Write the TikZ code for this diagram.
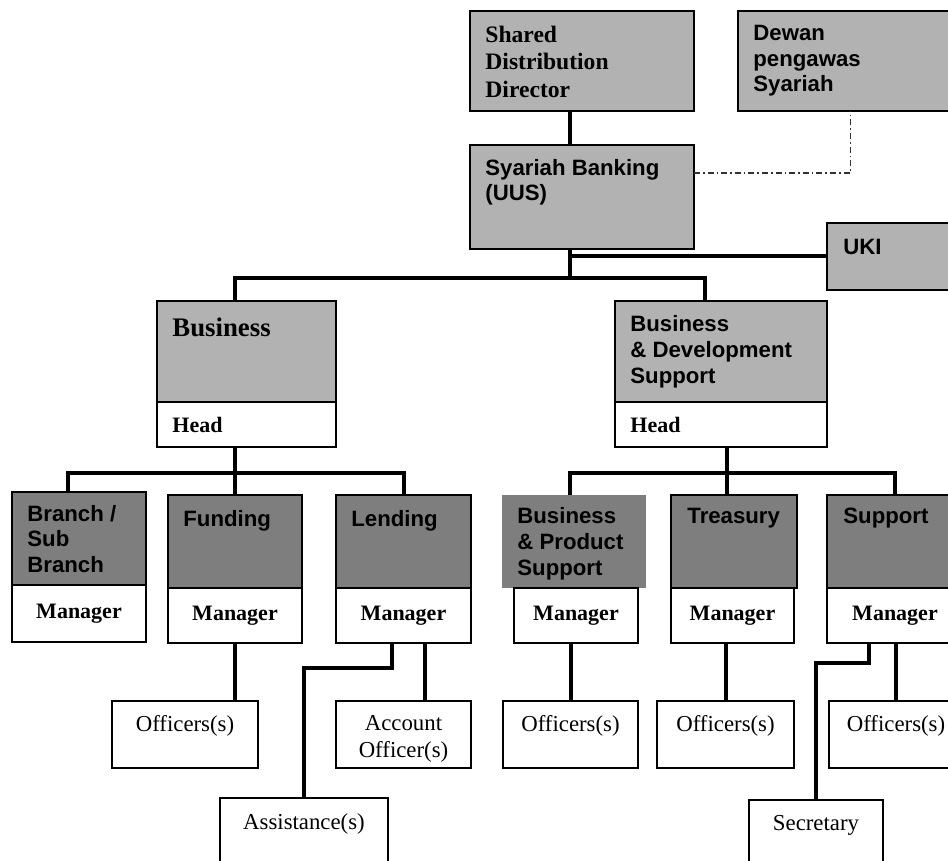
\documentclass[tikz,border=0pt]{standalone}
\usepackage{fontspec}
\setmainfont{Liberation Serif}
\setsansfont{Liberation Sans}
\definecolor{unitgray}{RGB}{178,178,178}
\definecolor{deptgray}{RGB}{126,126,126}
\newcommand{\orgserif}{\fontsize{11}{13.5}\selectfont\rmfamily}
\newcommand{\orgsans}{\fontsize{11.1}{12.9}\selectfont\sffamily\bfseries}

\tikzset{
  box/.style={draw, line width=0.7pt, inner sep=0pt, outer sep=0pt, anchor=north west},
  unitbox/.style={box, fill=unitgray},
  deptbox/.style={box, fill=deptgray},
  rolebox/.style={box, fill=white, font=\orgserif\bfseries},
  staffbox/.style={box, fill=white},
  conn/.style={line width=2pt},
  advice/.style={line width=0.7pt, black!80, dash pattern=on 3pt off 1.5pt on 0.8pt off 1.5pt},
  sanslbl/.style={font=\orgsans, align=left, inner sep=0pt, anchor=north west},
  seriflbl/.style={font=\orgserif\bfseries, align=left, inner sep=0pt, anchor=north west},
  stafflbl/.style={font=\fontsize{11.4}{13.5}\selectfont, align=center, inner sep=0pt, anchor=north},
}

\begin{document}
\begin{tikzpicture}[x=0.5pt, y=-0.5pt]
\clip (0,0) rectangle (948,861);
% Top units
\node[unitbox, minimum width=112pt, minimum height=50pt] (sdd) at (470,11) {};
\node[seriflbl, font=\fontsize{11.8}{13.6}\selectfont\bfseries] at ([xshift=7.5pt, yshift=-7.5pt]sdd.north west) {Shared\\Distribution\\Director};
\node[unitbox, minimum width=112.5pt, minimum height=50pt] (dewan) at (738,11) {};
\node[sanslbl] at ([xshift=7.5pt, yshift=-6.8pt]dewan.north west) {Dewan\\pengawas\\Syariah};
\node[unitbox, minimum width=112pt, minimum height=52pt] (uus) at (470,145) {};
\node[sanslbl] at ([xshift=7.5pt, yshift=-6.8pt]uus.north west) {Syariah Banking\\(UUS)};
\node[unitbox, minimum width=68pt, minimum height=33.5pt] (uki) at (827,223) {};
\node[sanslbl] at ([xshift=8pt, yshift=-8pt]uki.north west) {UKI};

% Divisions
\node[unitbox, minimum width=89.5pt, minimum height=50.5pt] (biz) at (157,301) {};
\node[seriflbl, font=\fontsize{13.4}{15}\selectfont\bfseries] at ([xshift=7.5pt, yshift=-8.5pt]biz.north west) {Business};
\node[staffbox, minimum width=89.5pt, minimum height=22.5pt] (bizhead) at (157,402) {};
\node[seriflbl, anchor=west] at ([xshift=7.5pt]bizhead.west) {Head};
\node[unitbox, minimum width=106pt, minimum height=50.5pt] (bds) at (615,301) {};
\node[sanslbl] at ([xshift=7.5pt, yshift=-7.2pt]bds.north west) {Business\\\& Development\\Support};
\node[staffbox, minimum width=106pt, minimum height=22.5pt] (bdshead) at (615,402) {};
\node[seriflbl, anchor=west] at ([xshift=7.5pt]bdshead.west) {Head};

% Departments
\node[deptbox, minimum width=67pt, minimum height=46.5pt] (branch) at (12,492) {};
\node[sanslbl] at ([xshift=7.5pt, yshift=-6.3pt]branch.north west) {Branch /\\Sub\\Branch};
\node[rolebox, minimum width=67pt, minimum height=28.5pt] (branchmgr) at (12,585) {Manager};
\node[deptbox, minimum width=67pt, minimum height=46.5pt] (fund) at (168,495) {};
\node[sanslbl] at ([xshift=7.5pt, yshift=-7.3pt]fund.north west) {Funding};
\node[rolebox, minimum width=67pt, minimum height=27.5pt] (fundmgr) at (168,588) {Manager};
\node[deptbox, minimum width=67.5pt, minimum height=46.5pt] (lend) at (336,495) {};
\node[sanslbl] at ([xshift=7.5pt, yshift=-7.3pt]lend.north west) {Lending};
\node[rolebox, minimum width=67.5pt, minimum height=27.5pt] (lendmgr) at (336,588) {Manager};
\node[deptbox, draw=none, minimum width=72pt, minimum height=46.5pt] (bps) at (502,495) {};
\node[sanslbl] at ([xshift=7.5pt, yshift=-6pt]bps.north west) {Business\\\& Product\\Support};
\node[rolebox, minimum width=62pt, minimum height=27.5pt] (bpsmgr) at (514,588) {Manager};
\node[deptbox, minimum width=63pt, minimum height=46.5pt] (treas) at (671,495) {};
\node[sanslbl] at ([xshift=8pt, yshift=-6.5pt]treas.north west) {Treasury};
\node[rolebox, minimum width=61.5pt, minimum height=27.5pt] (treasmgr) at (671,588) {Manager};
\node[deptbox, minimum width=68pt, minimum height=46.5pt] (supp) at (827,495) {};
\node[sanslbl] at ([xshift=8pt, yshift=-6.5pt]supp.north west) {Support};
\node[rolebox, minimum width=68pt, minimum height=27.5pt] (suppmgr) at (827,588) {Manager};

% Staff
\node[staffbox, minimum width=73pt, minimum height=33.5pt] (off1) at (112,701) {};
\node[stafflbl] at ([yshift=-7.2pt]off1.north) {Officers(s)};
\node[staffbox, minimum width=67.5pt, minimum height=33.5pt] (acc) at (336,701) {};
\node[stafflbl] at ([yshift=-7.2pt]acc.north) {Account\\Officer(s)};
\node[staffbox, minimum width=84pt, minimum height=40pt] (asst) at (220,798) {};
\node[stafflbl] at ([yshift=-7.5pt]asst.north) {Assistance(s)};
\node[staffbox, minimum width=67.5pt, minimum height=33.5pt] (off2) at (503,701) {};
\node[stafflbl] at ([yshift=-7.2pt]off2.north) {Officers(s)};
\node[staffbox, minimum width=68.5pt, minimum height=33.5pt] (off3) at (657,701) {};
\node[stafflbl] at ([yshift=-7.2pt]off3.north) {Officers(s)};
\node[staffbox, minimum width=67pt, minimum height=33.5pt] (off4) at (829,701) {};
\node[stafflbl] at ([yshift=-7.2pt]off4.north) {Officers(s)};
\node[staffbox, minimum width=67pt, minimum height=40pt] (secr) at (749,800) {};
\node[stafflbl] at ([yshift=-7.5pt]secr.north) {Secretary};

% Junctions
\coordinate (hub1) at (570,278);
\coordinate (hub2) at (235,473);
\coordinate (hub3) at (727,473);

% Connectors
\draw[conn] ([xshift=-6pt]sdd.south) -- ([xshift=-6pt]uus.north);
\draw[advice] ([yshift=12pt]uus.east) -| (dewan.south);
\draw[conn] ([xshift=-6pt]uus.south) -- (hub1);
\draw[conn] (uki.west) -- (uki.west -| hub1);
\draw[conn] ([xshift=-5.75pt]biz.north) |- (hub1) -| ([xshift=-8pt]bds.north);
\draw[conn] ([xshift=-5.75pt]bizhead.south) -- (hub2);
\draw[conn] ([xshift=-5.5pt]branch.north) |- (hub2) -| (lend.north);
\draw[conn] (fund.north) -- (hub2);
\draw[conn] ([xshift=3pt]bdshead.south) -- (hub3);
\draw[conn] ([xshift=-2pt]bps.north) |- (hub3) -| (supp.north);
\draw[conn] ([xshift=-3.5pt]treas.north) -- (hub3);
\draw[conn] (fundmgr.south) -- (fundmgr.south |- off1.north);
\draw[conn] ([xshift=-5.75pt]lendmgr.south) -- ++(0,25) -| (asst.north);
\draw[conn] ([xshift=10.75pt]lendmgr.south) -- ([xshift=10.75pt]acc.north);
\draw[conn] (off2.north) -- (off2.north |- bpsmgr.south);
\draw[conn] (off3.north) -- (off3.north |- treasmgr.south);
\draw[conn] ([xshift=-13pt]suppmgr.south) -- ++(0,20) -| (secr.north);
\draw[conn] (off4.north) -- (off4.north |- suppmgr.south);
\end{tikzpicture}
\end{document}
